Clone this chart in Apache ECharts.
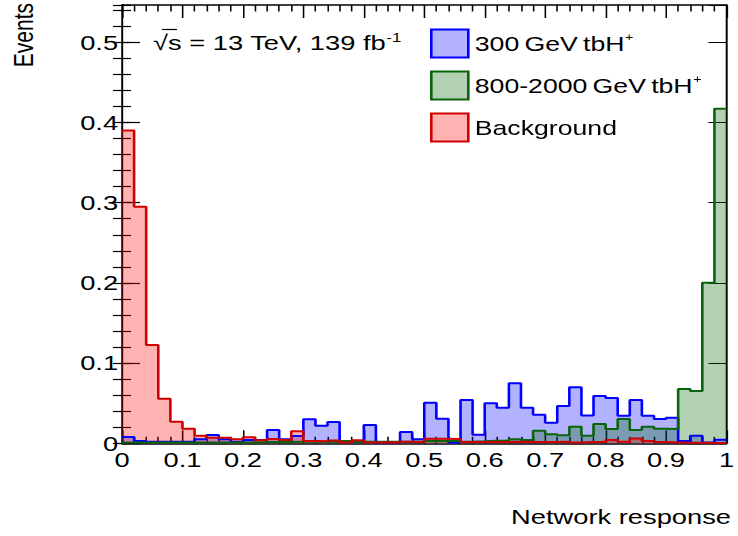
<!DOCTYPE html>
<html>
<head>
<meta charset="utf-8">
<script src="https://cdn.jsdelivr.net/npm/echarts@6/dist/echarts.min.js"></script>
<style>
html,body{margin:0;padding:0;background:#fff;overflow:hidden;}
#main{position:absolute;left:0;top:0;height:536px;transform-origin:0 0;}
</style>
</head>
<body>
<div id="main"></div>
<script>
// Bin edges of the network response histogram (50 bins of width 0.02)
const binEdges = [0,0.02,0.04,0.06,0.08,0.1,0.12,0.14,0.16,0.18,0.2,0.22,0.24,0.26,0.28,0.3,0.32,0.34,0.36,0.38,
  0.4,0.42,0.44,0.46,0.48,0.5,0.52,0.54,0.56,0.58,0.6,0.62,0.64,0.66,0.68,0.7,0.72,0.74,0.76,0.78,
  0.8,0.82,0.84,0.86,0.88,0.9,0.92,0.94,0.96,0.98,1];

// Normalised event fractions per bin
const sig300Values = [0.0078,0.003,0.002,0.002,0.002,0.002,0.005,0.0105,0.005,0.002,
  0.004,0.004,0.0165,0.005,0.009,0.030,0.022,0.0266,0.002,0.002,
  0.0228,0.001,0.001,0.014,0.005,0.0507,0.0305,0.001,0.054,0.0107,
  0.050,0.0444,0.0748,0.0444,0.0357,0.0257,0.0465,0.0698,0.0347,0.059,
  0.0565,0.0344,0.054,0.0344,0.0303,0.032,0.003,0.0095,0.001,0.0045];

const sigHighValues = [0.001,0.001,0.001,0.001,0.001,0.001,0.001,0.001,0.001,0.001,
  0.001,0.0015,0.0015,0.0015,0.002,0.002,0.002,0.002,0.003,0.002,
  0.002,0.002,0.002,0.002,0.002,0.003,0.003,0.003,0.002,0.0025,
  0.0033,0.0033,0.005,0.004,0.0157,0.0112,0.010,0.0207,0.0095,0.024,
  0.0178,0.0303,0.0166,0.0207,0.018,0.0178,0.0677,0.0652,0.2003,0.4172];

const bkgValues = [0.390,0.295,0.1226,0.0554,0.027,0.018,0.0095,0.007,0.007,0.005,
  0.0075,0.0037,0.0054,0.004,0.015,0.003,0.0025,0.0035,0.001,0.0037,
  0.001,0.0012,0.001,0.002,0.0015,0.0057,0.0057,0.0054,0.0015,0.0015,
  0.0015,0.0015,0.002,0.0015,0.0015,0.0015,0.002,0.001,0.0015,0.0015,
  0.004,0.002,0.006,0.003,0.0015,0.001,0.0008,0.0008,0.0005,0.0005];

const seriesNames = ['300 GeV tbH+', '800-2000 GeV tbH+', 'Background'];
const yMax = 0.5465;

// The figure is laid out on a narrower canvas and widened horizontally,
// which gives the wide lettering of the plot.
const STRETCH = 1.3;
const W = 738 / STRETCH, H = 536;
const FONT = '"Liberation Sans", Arial, Helvetica, sans-serif';
const FS = 21;

const dom = document.getElementById('main');
dom.style.width = W + 'px';
dom.style.transform = 'scaleX(' + STRETCH + ')';
const chart = echarts.init(dom, null, { renderer: 'svg', width: W, height: H });

function histPoints(values) {
  const pts = values.map((v, i) => [binEdges[i], v]);
  pts.push([binEdges[values.length], values[values.length - 1]]);
  return pts;
}

function histSeries(name, values, line, fill) {
  return {
    name: name, type: 'line', step: 'end', data: histPoints(values),
    symbol: 'none', showSymbol: false, silent: true, clip: true,
    lineStyle: { color: line, width: 2 },
    itemStyle: { color: line },
    areaStyle: { color: fill, opacity: 1 },
    emphasis: { disabled: true }
  };
}

const frame = { show: true, onZero: false, lineStyle: { color: '#000', width: 1.5 } };
const tickStyle = { color: '#000', width: 1.2 };

function xAxisDef(pos, labels) {
  return {
    type: 'value', position: pos, min: 0, max: 1, interval: 0.1,
    axisLine: frame,
    axisTick: { show: true, inside: true, length: 13, lineStyle: tickStyle },
    minorTick: { show: true, splitNumber: 5, length: 6.5, lineStyle: tickStyle },
    axisLabel: { show: labels, color: '#000', fontFamily: FONT, fontSize: FS, margin: 6 },
    splitLine: { show: false }, minorSplitLine: { show: false }
  };
}
function yAxisDef(pos, interval, tickLen, labels, line) {
  return {
    type: 'value', position: pos, min: 0, max: yMax, interval: interval,
    axisLine: line ? frame : { show: false },
    axisTick: { show: true, inside: true, length: tickLen, lineStyle: tickStyle },
    axisLabel: { show: labels, color: '#000', fontFamily: FONT, fontSize: FS, margin: 3,
      showMaxLabel: false },
    splitLine: { show: false }
  };
}

const richText = {
  t: { fontFamily: FONT, fontSize: FS, color: '#000', lineHeight: 24 },
  s: { fontFamily: FONT, fontSize: 13, color: '#000', lineHeight: 13, verticalAlign: 'top' }
};
// legend entries: words set with a slightly narrow gap, superscript charge sign
const LFS = 20.5;
const legendRich = {
  w: { fontFamily: FONT, fontSize: LFS, color: '#000', lineHeight: 24 },
  g: { fontFamily: FONT, fontSize: LFS, color: '#000', lineHeight: 24, padding: [0, 0, 0, 4] },
  s: { fontFamily: FONT, fontSize: 11, color: '#000', lineHeight: 11, verticalAlign: 'top', padding: [0, 0, 0, 0.5] }
};

const option = {
  animation: false,
  backgroundColor: '#fff',
  grid: { left: 122 / STRETCH, right: 7 / STRETCH, top: 5, bottom: 92.7, containLabel: false },
  xAxis: [xAxisDef('bottom', true), xAxisDef('top', false)],
  yAxis: [
    yAxisDef('left', 0.1, 18 / STRETCH, true, true),
    yAxisDef('left', 0.02, 9 / STRETCH, false, false),
    yAxisDef('right', 0.1, 18 / STRETCH, false, true),
    yAxisDef('right', 0.02, 9 / STRETCH, false, false)
  ],
  legend: {
    orient: 'vertical', left: 430 / STRETCH, top: 28.5, padding: 0,
    itemWidth: 37 / STRETCH, itemHeight: 28, itemGap: 12, icon: 'rect',
    selectedMode: false,
    textStyle: { fontFamily: FONT, fontSize: LFS, color: '#000', rich: legendRich },
    formatter: function (name) {
      const sup = name.endsWith('+');
      const words = (sup ? name.slice(0, -1) : name).split(' ');
      let out = words.map((w, i) => (i === 0 ? '{w|' : '{g|') + w + '}').join('');
      if (sup) out += '{s|+}';
      return out;
    },
    data: [
      { name: seriesNames[0], itemStyle: { color: 'rgba(0,0,255,0.3)', borderColor: '#0000ff', borderWidth: 2 } },
      { name: seriesNames[1], itemStyle: { color: 'rgba(0,100,0,0.3)', borderColor: '#0b640b', borderWidth: 2 } },
      { name: seriesNames[2], itemStyle: { color: 'rgba(255,0,0,0.3)', borderColor: '#d00000', borderWidth: 2 } }
    ]
  },
  graphic: [
    { type: 'text', x: 153 / STRETCH, y: 43, silent: true,
      style: { text: '{t|√s = 13 TeV, 139 fb}{s|-1}', rich: richText, verticalAlign: 'middle' } },
    { type: 'line', silent: true,
      shape: { x1: 162 / STRETCH, y1: 29.5, x2: 177 / STRETCH, y2: 29.5 },
      style: { stroke: '#000', lineWidth: 1.2 } },
    { type: 'text', x: 23 / STRETCH, y: 3, rotation: Math.PI / 2, silent: true,
      style: { text: 'Events', fontFamily: FONT, fontSize: FS, fill: '#000', align: 'right', verticalAlign: 'middle' } },
    { type: 'text', x: 731 / STRETCH, y: 517, silent: true,
      style: { text: 'Network response', fontFamily: FONT, fontSize: FS, fill: '#000', align: 'right', verticalAlign: 'middle' } }
  ],
  series: [
    histSeries(seriesNames[0], sig300Values, '#0000ff', 'rgba(0,0,255,0.3)'),
    histSeries(seriesNames[1], sigHighValues, '#0b640b', 'rgba(0,100,0,0.3)'),
    histSeries(seriesNames[2], bkgValues, '#d00000', 'rgba(255,0,0,0.3)')
  ]
};

chart.setOption(option);
</script>
</body>
</html>
